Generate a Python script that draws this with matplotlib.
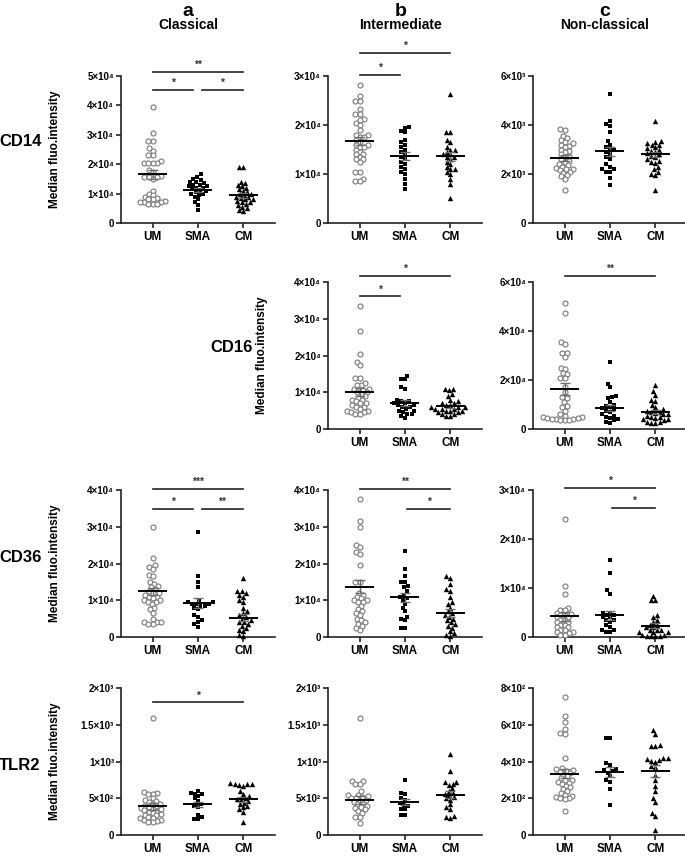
import numpy as np
import matplotlib
matplotlib.use("Agg")
from matplotlib import pyplot as plt

plt.rcParams['font.family'] = ['Liberation Sans', 'DejaVu Sans']
plt.rcParams['font.weight'] = 'bold'

groups = ["UM", "SMA", "CM"]

# valores (CD14, CD16, CD36 em unidades de 10^3; TLR2 em unidades brutas)
cd14_a_um = [39.5, 30.5, 28, 28, 25.5, 24.5, 23, 23, 21, 20.5, 20.5, 20.5, 20.5, 18, 17.5, 16,
             15.5, 15.5, 15.5, 15, 11, 10, 9.5, 9, 8.5, 8, 8, 7.5, 7, 7, 7, 6.5, 6.5, 6.5]
cd14_a_sma = [16.5, 15.5, 15, 14.5, 14, 14, 13.5, 13, 13, 12.5, 12.5, 12, 12, 11.5, 11, 11,
              10.5, 10, 10, 9.5, 9, 8, 7, 6, 4.5]
cd14_a_cm = [19, 19, 14, 13.5, 13, 12.5, 12, 11.5, 11, 10.5, 10, 10, 9.5, 9, 9, 8.5, 8, 8,
             7.5, 7, 7, 6.5, 6, 5.5, 5, 4.5, 4]
cd14_a_means = [16.5, 11.3, 9.4]

cd14_b_um = [28.2, 26, 25, 25, 23.2, 22.3, 22.3, 21.3, 21, 20.5, 20, 19, 18, 18, 17.5, 17.5, 17,
             16.5, 16, 16, 15.5, 15.5, 15, 14.5, 14, 14, 13.5, 13, 13, 12.5, 10.5, 10.5, 9, 8.5, 8.5]
cd14_b_sma = [19.6, 19.4, 18.8, 18.5, 17, 16.5, 16, 15.5, 15, 14.5, 14, 13.5, 13, 12.5, 12, 11.5,
              11, 10.5, 10, 9, 8, 7]
cd14_b_cm = [26.3, 18.6, 18.6, 17, 16.5, 15.5, 15, 15, 14.5, 14, 14, 13.5, 13.5, 13, 12.5, 12,
             11.5, 11, 11, 10.5, 10, 9, 8, 5.2]
cd14_b_means = [16.7, 13.7, 13.6]

cd14_c_um = [3.85, 3.8, 3.55, 3.45, 3.4, 3.3, 3.25, 3.2, 3.15, 3.1, 3.0, 2.95, 2.9, 2.8, 2.75,
             2.7, 2.6, 2.55, 2.5, 2.4, 2.35, 2.3, 2.25, 2.2, 2.2, 2.15, 2.1, 2.05, 1.95, 1.9, 1.8, 1.35]
cd14_c_sma = [5.25, 4.15, 4.05, 3.95, 3.7, 3.35, 3.2, 3.1, 3.0, 3.0, 2.9, 2.8, 2.7, 2.6, 2.4,
              2.3, 2.2, 2.2, 2.1, 2.1, 1.85, 1.55]
cd14_c_cm = [4.15, 3.35, 3.3, 3.25, 3.2, 3.2, 3.1, 3.05, 3.0, 2.95, 2.9, 2.85, 2.8, 2.75, 2.7,
             2.6, 2.55, 2.5, 2.45, 2.3, 2.2, 2.1, 2.0, 1.95, 1.35]
cd14_c_means = [2.66, 2.92, 2.8]

cd16_b_um = [33.5, 26.8, 20.3, 18.3, 17.4, 14, 14, 12.5, 12, 12, 11, 11, 11, 10.5, 10, 10, 9.5,
             9, 8.5, 8, 8, 7.5, 7, 7, 6.5, 6, 6, 5.5, 5, 5, 4.5, 4.5, 4, 4]
cd16_b_sma = [14.5, 13.7, 13.5, 11.5, 11, 8, 7.5, 7.5, 7, 7, 6.5, 6.5, 6, 6, 5.5, 5, 5, 4.5,
              4, 4, 3.5, 3]
cd16_b_cm = [11, 11, 10.5, 9.5, 9, 8, 7.5, 7, 7, 6.5, 6.5, 6, 6, 6, 5.5, 5.5, 5.5, 5, 5, 5,
             4.5, 4.5, 4, 4, 3.5, 3.5]
cd16_b_means = [10.0, 7.1, 6.2]

cd16_c_um = [51.5, 47.5, 35.5, 34.8, 31, 31, 29.5, 25, 24.5, 23, 22.5, 21, 21, 17, 15, 13, 12.5,
             11, 9.5, 9, 7.5, 6, 5.5, 5, 5, 4.5, 4.5, 4, 4, 4, 3.5, 3.5, 3.5]
cd16_c_sma = [27.2, 18.5, 17, 13.5, 13, 12.5, 11, 10, 9.5, 9, 8.5, 8, 7.5, 7, 6, 5.5, 5, 4.5,
              4, 3.5, 3, 2.5]
cd16_c_cm = [17.8, 15.5, 14, 12, 11.5, 10, 9, 8, 7.5, 7, 7, 6.5, 6, 6, 5.5, 5, 5, 4.5, 4, 4,
             3.5, 3, 3, 2.5, 2.5]
cd16_c_means = [16.4, 8.6, 6.8]

cd36_a_um = [30, 21.5, 19.5, 19, 18.5, 17, 16.5, 15, 14.5, 14, 13.5, 13, 12.5, 12, 12, 11.5, 11,
             11, 10.5, 10, 10, 9.5, 9.5, 9, 8, 7.5, 6.5, 5, 4, 4, 4, 3.5, 3.5]
cd36_a_sma = [28.5, 16.5, 15, 13.5, 10, 9.5, 9.5, 9, 9, 9, 8.5, 8.5, 8, 7.5, 6, 5.5, 4.5, 4,
              3.5, 2.8]
cd36_a_cm = [16, 12.5, 12.5, 12, 11.5, 11, 10, 9.5, 8, 7, 6.5, 6, 5.5, 5, 4.5, 4, 4, 3.5, 3,
             2.5, 2, 1.5, 0.5, 0.3]
cd36_a_means = [12.4, 9.3, 5.3]

cd36_b_um = [37.5, 31.5, 30, 25, 24.5, 23, 22.5, 19.5, 15, 15, 12, 11.5, 11, 10.5, 10, 10, 9.5,
             9.5, 8.5, 7.5, 7, 6.5, 6, 5, 4.5, 4, 3.5, 3, 2.5, 2]
cd36_b_sma = [23.5, 18.5, 16.5, 15, 15, 14, 13.5, 12.5, 11.5, 11, 10.5, 10, 9, 8, 7, 5.5, 5,
              4.5, 2.5, 2.5]
cd36_b_cm = [16.5, 16, 14.5, 13, 12.5, 11, 9.5, 9, 8, 7, 6.5, 6, 5.5, 5, 4.5, 4, 3.5, 3, 2.5,
             1.5, 1, 0.5, 0.3]
cd36_b_means = [13.7, 10.8, 6.5]

cd36_c_um = [24, 10.5, 8.8, 6, 5.5, 5.5, 5, 4.7, 4.5, 4.5, 4, 4, 3.5, 3.5, 3, 3, 2.5, 2.5, 2, 2,
             1.5, 1.5, 1, 1, 0.8, 0.5, 0.5]
cd36_c_sma = [15.8, 13, 9.5, 8.8, 5, 5, 4.5, 4.5, 4, 4, 3.5, 3.5, 3, 2.5, 2, 1.5, 1.5, 1, 1]
cd36_c_cm = [8.3, 7.5, 7.5, 4.5, 4, 3.5, 3, 2.5, 2.5, 2, 2, 1.5, 1.5, 1.5, 1, 1, 1, 0.5, 0.5,
             0.3, 0.3, 0.2, 0.2]
cd36_c_means = [4.2, 4.4, 2.3]

tlr2_a_um = [1600, 590, 570, 560, 560, 500, 480, 460, 450, 430, 420, 400, 390, 380, 370, 360, 350,
             340, 330, 320, 300, 290, 280, 270, 250, 240, 230, 210, 200, 190, 180, 180]
tlr2_a_sma = [600, 580, 560, 560, 530, 500, 460, 420, 400, 380, 280, 250, 220, 220]
tlr2_a_cm = [710, 700, 700, 690, 680, 670, 600, 560, 530, 500, 490, 480, 460, 440, 420, 400, 380,
             350, 320, 180]
tlr2_a_means = [390, 420, 490]

tlr2_b_um = [1600, 740, 740, 700, 700, 600, 550, 540, 530, 520, 500, 500, 480, 470, 450, 430, 420,
             400, 380, 370, 350, 330, 300, 250, 250, 160]
tlr2_b_sma = [750, 580, 560, 500, 480, 440, 410, 390, 360, 350, 280, 280]
tlr2_b_cm = [1100, 870, 730, 720, 700, 680, 640, 600, 580, 560, 540, 520, 500, 480, 420, 380, 350,
             260, 250, 240]
tlr2_b_means = [480, 450, 550]

tlr2_c_um = [750, 650, 615, 580, 555, 550, 420, 365, 360, 355, 350, 345, 340, 330, 320, 310, 300,
             300, 290, 285, 280, 270, 260, 250, 240, 230, 220, 215, 210, 200, 200, 195, 130]
tlr2_c_sma = [530, 530, 390, 380, 360, 355, 350, 340, 320, 300, 290, 250, 165]
tlr2_c_cm = [570, 550, 490, 485, 485, 420, 420, 415, 410, 405, 400, 375, 370, 330, 300, 270, 240,
             200, 180, 120, 105, 30]
tlr2_c_means = [335, 345, 350]

# eixos y
ticks_1e4_5 = [0, 10, 20, 30, 40, 50]
labels_1e4_5 = ["0", "1×10⁴", "2×10⁴", "3×10⁴", "4×10⁴", "5×10⁴"]
ticks_1e4_4 = [0, 10, 20, 30, 40]
labels_1e4_4 = ["0", "1×10⁴", "2×10⁴", "3×10⁴", "4×10⁴"]
ticks_1e4_3 = [0, 10, 20, 30]
labels_1e4_3 = ["0", "1×10⁴", "2×10⁴", "3×10⁴"]
ticks_2e3 = [0, 2, 4, 6]
labels_2e3 = ["0", "2×10³", "4×10³", "6×10³"]
ticks_2e4 = [0, 20, 40, 60]
labels_2e4 = ["0", "2×10⁴", "4×10⁴", "6×10⁴"]
ticks_tlr_ab = [0, 500, 1000, 1500, 2000]
labels_tlr_ab = ["0", "5×10²", "1×10³", "1.5×10³", "2×10³"]
ticks_tlr_c = [0, 200, 400, 600, 800]
labels_tlr_c = ["0", "2×10²", "4×10²", "6×10²", "8×10²"]

# (linha, coluna, dados, médias, ticks, rótulos, barras de significância)
panels = [
    (0, 0, [cd14_a_um, cd14_a_sma, cd14_a_cm], cd14_a_means, ticks_1e4_5, labels_1e4_5,
     [(0, 2, 1.027, "**"), (0, 0.88, 0.905, "*"), (1.08, 2, 0.905, "*")]),
    (0, 1, [cd14_b_um, cd14_b_sma, cd14_b_cm], cd14_b_means, ticks_1e4_3, labels_1e4_3,
     [(0, 2, 1.156, "*"), (0, 0.88, 1.007, "*")]),
    (0, 2, [cd14_c_um, cd14_c_sma, cd14_c_cm], cd14_c_means, ticks_2e3, labels_2e3, []),
    (1, 1, [cd16_b_um, cd16_b_sma, cd16_b_cm], cd16_b_means, ticks_1e4_4, labels_1e4_4,
     [(0, 2, 1.041, "*"), (0, 0.88, 0.904, "*")]),
    (1, 2, [cd16_c_um, cd16_c_sma, cd16_c_cm], cd16_c_means, ticks_2e4, labels_2e4,
     [(0, 2, 1.041, "**")]),
    (2, 0, [cd36_a_um, cd36_a_sma, cd36_a_cm], cd36_a_means, ticks_1e4_4, labels_1e4_4,
     [(0, 2, 1.007, "***"), (0, 0.88, 0.871, "*"), (1.08, 2, 0.871, "**")]),
    (2, 1, [cd36_b_um, cd36_b_sma, cd36_b_cm], cd36_b_means, ticks_1e4_4, labels_1e4_4,
     [(0, 2, 1.007, "**"), (1.05, 2, 0.871, "*")]),
    (2, 2, [cd36_c_um, cd36_c_sma, cd36_c_cm], cd36_c_means, ticks_1e4_3, labels_1e4_3,
     [(0, 2, 1.014, "*"), (1.05, 2, 0.878, "*")]),
    (3, 0, [tlr2_a_um, tlr2_a_sma, tlr2_a_cm], tlr2_a_means, ticks_tlr_ab, labels_tlr_ab,
     [(0, 2, 0.905, "*")]),
    (3, 1, [tlr2_b_um, tlr2_b_sma, tlr2_b_cm], tlr2_b_means, ticks_tlr_ab, labels_tlr_ab, []),
    (3, 2, [tlr2_c_um, tlr2_c_sma, tlr2_c_cm], tlr2_c_means, ticks_tlr_c, labels_tlr_c, []),
]

row_bottoms = [0.7398, 0.4994, 0.2567, 0.0255]
col_lefts = [0.1766, 0.4788, 0.7781]
ax_w, ax_h = 0.2248, 0.1715
xlim = (-0.7, 2.7)

W, H = 685, 857


def swarm(values, d, sx, sy):
    # posições x (em unidades de dados) estilo beeswarm, sem sobreposição
    vals = np.asarray(values, float)
    order = np.argsort(vals)
    placed = []
    offs = np.zeros(len(vals))
    for i in order:
        y = vals[i] * sy
        forb = []
        for px, py in placed:
            dy = y - py
            if abs(dy) < d:
                w = np.sqrt(d * d - dy * dy)
                forb.append((px - w, px + w))
        cands = [0.0] + [a for f in forb for a in f]
        cands.sort(key=abs)
        c = 0.0
        for c in cands:
            if all(not (lo + 1e-6 < c < hi - 1e-6) for lo, hi in forb):
                break
        placed.append((c, y))
        offs[i] = c / sx
    return offs


fig = plt.figure(figsize=(W / 100, H / 100), dpi=100)

styles = [dict(marker='o', s=13, facecolors='white', edgecolors='#7a7a7a', linewidths=0.8),
          dict(marker='s', s=12, color='black', linewidths=0),
          dict(marker='^', s=15, color='black', linewidths=0)]

for row, col, data, means, yt, yl, bars in panels:
    ax = fig.add_axes([col_lefts[col], row_bottoms[row], ax_w, ax_h])
    ymax = yt[-1]
    sx = ax_w * W / (xlim[1] - xlim[0])
    sy = ax_h * H / ymax
    for g, vals in enumerate(data):
        vals = np.asarray(vals, float)
        xs = g + swarm(vals, 4.4, sx, sy)
        ax.scatter(xs, vals, zorder=3, clip_on=False, **styles[g])
        sem = vals.std(ddof=1) / np.sqrt(len(vals))
        ax.errorbar(g, means[g], yerr=sem, fmt='none', ecolor='#6e6e6e',
                    elinewidth=1.0, capsize=3.5, capthick=1.0, zorder=4)
        ax.hlines(means[g], g - 0.32, g + 0.32, color='black', lw=1.4, zorder=5)
    ax.set_xlim(*xlim)
    ax.set_ylim(0, ymax)
    ax.set_xticks(range(3))
    ax.set_xticklabels(groups, fontsize=8.5, fontweight='bold')
    ax.set_yticks(yt)
    ax.set_yticklabels(yl, fontsize=7, fontweight='bold')
    for s in ['top', 'right']:
        ax.spines[s].set_visible(False)
    for s in ['left', 'bottom']:
        ax.spines[s].set_linewidth(1.2)
        ax.spines[s].set_color('#222222')
    ax.tick_params(direction='out', length=3.5, width=1.2, color='#222222', pad=1.5)
    ax.tick_params(axis='x', pad=2)
    for x1, x2, yf, lab in bars:
        tr = ax.get_xaxis_transform()
        ax.plot([x1, x2], [yf, yf], color='#222222', lw=1.2, transform=tr, clip_on=False)
        ax.text((x1 + x2) / 2, yf + 0.012, lab, transform=tr, ha='center', va='bottom',
                fontsize=7.5, color='#333333')
    if col == 0 or (row == 1 and col == 1):
        ax.set_ylabel("Median fluo.intensity", fontsize=8.5, fontweight='bold')
        ax.yaxis.set_label_coords(-0.39, 0.5)

# rótulos das linhas
fig.text(21 / W, 1 - 142 / H, "CD14", ha='center', va='center', fontsize=12, fontweight='bold')
fig.text(232 / W, 1 - 348 / H, "CD16", ha='center', va='center', fontsize=12, fontweight='bold')
fig.text(21 / W, 1 - 558 / H, "CD36", ha='center', va='center', fontsize=12, fontweight='bold')
fig.text(20 / W, 1 - 765 / H, "TLR2", ha='center', va='center', fontsize=12, fontweight='bold')

# títulos das colunas
for x, letter, name in [(188, "a", "Classical"), (401, "b", "Intermediate"), (605, "c", "Non-classical")]:
    fig.text(x / W, 1 - 11 / H, letter, ha='center', va='center', fontsize=14, fontweight='bold')
    fig.text(x / W, 1 - 25 / H, name, ha='center', va='center', fontsize=10, fontweight='bold')

plt.savefig("out.png", dpi=100)
